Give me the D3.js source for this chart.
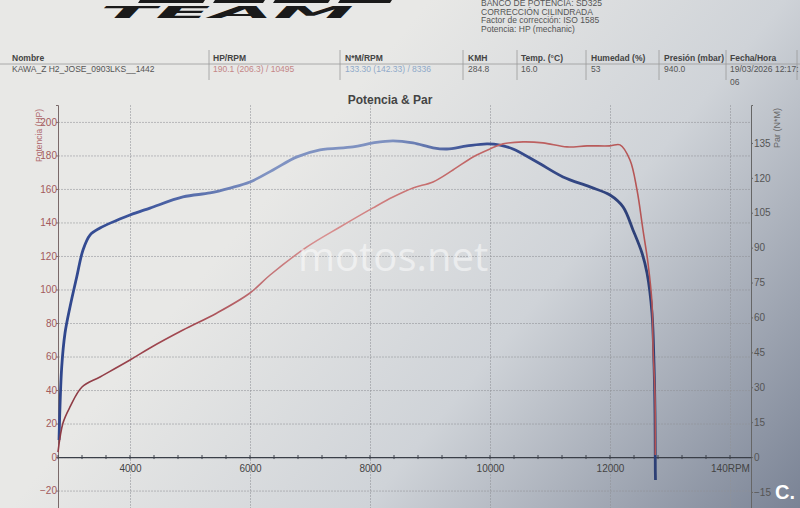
<!DOCTYPE html>
<html>
<head>
<meta charset="utf-8">
<script src="https://cdn.jsdelivr.net/npm/d3@7"></script>
<style>
    body { margin: 0; background: #e9e9e7; }
    svg { display: block; font-family: "Liberation Sans", Arial, sans-serif; }
</style>
</head>
<body>
<div id="chart-area"></div>
<script>

/********************************************/
// Data _____________________________________/
/********************************************/

// Power curve (HP, left axis)
const powerRpm = [2800, 2883, 3000, 3200, 3500, 4000, 4333, 4883, 5450, 6000, 6330, 6950, 7500, 8050,
    8383, 8717, 9050, 9383, 9717, 10000, 10217, 10550, 10883, 11283, 11617, 12000, 12167, 12333,
    12450, 12550, 12633, 12700, 12717, 12750, 12755];
const powerHp = [3.0, 20.3, 29.9, 41.8, 47.8, 57.9, 65.1, 75.8, 86.0, 97.9, 108.5, 125.4, 137.3, 148.7,
    155.2, 160.6, 164.2, 171.3, 179.1, 183.9, 186.9, 188.1, 187.5, 185.1, 185.7, 185.7, 186.3, 177.3,
    159.4, 135.5, 115.8, 91.9, 65.7, 35.8, 1.2];

// Torque curve (N*M, right axis)
const torqueRpm = [2817, 2862, 2917, 3000, 3112, 3217, 3333, 3500, 4000, 4333, 4883, 5333, 5667, 6000,
    6383, 6783, 7167, 7717, 8050, 8383, 8717, 9050, 9283, 9617, 9950, 10167, 10383, 10783, 11217,
    11667, 12000, 12217, 12383, 12533, 12617, 12700, 12733, 12750, 12755, 12758];
const torqueNm = [7.3, 38.7, 53.3, 64.5, 77.4, 89.0, 95.4, 98.4, 104.0, 107.0, 111.8, 113.5, 115.6, 118.2,
    123.4, 129.0, 132.0, 133.3, 135.0, 135.9, 135.0, 132.9, 132.4, 133.7, 134.6, 134.1, 132.4, 126.8, 120.4,
    116.1, 112.6, 107.5, 97.6, 87.7, 79.1, 61.9, 40.4, 18.9, -5.6, -9.9];

// Axis ticks
const hpTicks = [-20, 0, 20, 40, 60, 80, 100, 120, 140, 160, 180, 200];
const nmTicks = [-15, 0, 15, 30, 45, 60, 75, 90, 105, 120, 135];
const rpmTicks = [4000, 6000, 8000, 10000, 12000, 14000];
const rpmLabels = ["4000", "6000", "8000", "10000", "12000", "140RPM"];

// Header table
const headerLabels = ["Nombre", "HP/RPM", "N*M/RPM", "KMH", "Temp. (°C)", "Humedad (%)", "Presión (mbar)", "Fecha/Hora"];
const headerValues = ["KAWA_Z H2_JOSE_0903LKS__1442", "190.1 (206.3) / 10495", "133.30 (142.33) / 8336",
    "284.8", "16.0", "53", "940.0", "19/03/2026 12:17:"];
const bankInfo = ["BANCO DE POTENCIA: SD325", "CORRECCIÓN CILINDRADA", "Factor de corrección: ISO 1585", "Potencia: HP (mechanic)"];

/********************************************/
// Svg dimension creation ___________________/
/********************************************/

const W = 800, H = 508;
const margin = { left: 58, right: 49, top: 105, bottom: 0 },
    width = W - margin.left - margin.right,
    height = H - margin.top - margin.bottom;

const svg = d3.select("#chart-area").append("svg")
    .attr("width", W)
    .attr("height", H);

const defs = svg.append("defs");

// Photo-like paper shading
const bg = defs.append("linearGradient").attr("id", "paper")
    .attr("gradientUnits", "userSpaceOnUse")
    .attr("x1", 330).attr("y1", 120).attr("x2", 800).attr("y2", 508);
bg.append("stop").attr("offset", 0).attr("stop-color", "#e8e8e6");
bg.append("stop").attr("offset", 0.45).attr("stop-color", "#cfd3d8");
bg.append("stop").attr("offset", 1).attr("stop-color", "#7a8395");

svg.append("rect").attr("width", W).attr("height", H).attr("fill", "url(#paper)");

function strokeGrad(id, stops) {
    const gr = defs.append("linearGradient").attr("id", id)
        .attr("gradientUnits", "userSpaceOnUse")
        .attr("x1", 0).attr("y1", 0).attr("x2", width).attr("y2", 0);
    stops.forEach(s => gr.append("stop").attr("offset", s[0]).attr("stop-color", s[1]));
}
strokeGrad("blueLine", [[0, "#2f468c"], [0.12, "#3d559c"], [0.3, "#8093c2"], [0.48, "#7e91c0"], [0.6, "#3a4f93"], [1, "#263766"]]);
strokeGrad("redLine", [[0, "#8c3a44"], [0.2, "#a54a52"], [0.38, "#d99191"], [0.55, "#c46a6a"], [1, "#ad4a4a"]]);

/********************************************/
// Header ___________________________________/
/********************************************/

// Logo (cut off at top)
const logo = svg.append("g").attr("fill", "#1a1a1a");
[[140, 205], [215, 265], [275, 330], [340, 392]].forEach(p => {
    logo.append("path").attr("d", `M${p[0]},0 L${p[1]},0 L${p[1] - 2},3 L${p[0] - 2},3 Z`);
});
logo.append("text")
    .attr("x", 100).attr("y", 18)
    .attr("font-size", 15).attr("font-weight", 900).attr("font-style", "italic")
    .attr("font-family", "DejaVu Sans")
    .attr("textLength", 254).attr("lengthAdjust", "spacingAndGlyphs")
    .text("TEAM");

svg.append("g").selectAll("text").data(bankInfo).join("text")
    .attr("x", 481).attr("y", (d, i) => 6 + i * 8.5)
    .attr("font-size", 8.5).attr("fill", "#555")
    .text(d => d);

const colX = [12, 213, 345, 468, 521, 591, 664, 730];
const sepX = [209, 340, 463, 517, 586, 659, 726, 797];
const valueColors = ["#555", "#c48686", "#8fa9c9", "#555", "#555", "#555", "#555", "#555"];

svg.append("line").attr("x1", 0).attr("x2", W).attr("y1", 64).attr("y2", 64)
    .attr("stroke", "#999").attr("stroke-width", 0.8);
svg.append("g").selectAll("line").data(sepX).join("line")
    .attr("x1", d => d).attr("x2", d => d).attr("y1", 50).attr("y2", 80)
    .attr("stroke", "#999").attr("stroke-width", 0.8);
svg.append("g").selectAll("text").data(headerLabels).join("text")
    .attr("x", (d, i) => colX[i]).attr("y", 61)
    .attr("font-size", 8.5).attr("font-weight", "bold").attr("fill", "#444")
    .text(d => d);
svg.append("g").selectAll("text").data(headerValues).join("text")
    .attr("x", (d, i) => colX[i]).attr("y", 72)
    .attr("font-size", 8.5).attr("fill", (d, i) => valueColors[i])
    .text(d => d);
svg.append("text").attr("x", 730).attr("y", 85)
    .attr("font-size", 8.5).attr("fill", "#555").text("06");

svg.append("text")
    .attr("x", 390).attr("y", 104)
    .attr("text-anchor", "middle")
    .attr("font-size", 12).attr("font-weight", "bold").attr("fill", "#444")
    .text("Potencia & Par");

/********************************************/
// Chart ____________________________________/
/********************************************/

const g = svg.append("g")
    .attr("transform", "translate(" + margin.left + ", " + margin.top + ")");

const x = d3.scaleLinear().domain([2800, 14350]).range([0, width]);
const yHp = d3.scaleLinear().domain([-30.4, 210.1]).range([height, 0]);
const yNm = d3.scaleLinear().domain([-21.9, 151.3]).range([height, 0]);

// Gridlines
g.append("g")
    .attr("class", "grid")
    .call(d3.axisLeft(yHp).tickValues(hpTicks).tickSize(-width).tickFormat(""))
    .call(s => s.select(".domain").remove());
g.append("g")
    .attr("class", "grid")
    .attr("transform", "translate(0," + height + ")")
    .call(d3.axisBottom(x).tickValues(rpmTicks).tickSize(height).tickFormat(""))
    .call(s => s.select(".domain").remove())
    .call(s => s.selectAll("line").attr("transform", "translate(0," + (-height) + ")"));
g.selectAll(".grid line")
    .attr("stroke", "#8f9296")
    .attr("stroke-opacity", 0.7)
    .attr("stroke-width", 0.8)
    .attr("stroke-dasharray", "2,1");

// Left axis (HP)
const yAxisL = g.append("g")
    .call(d3.axisLeft(yHp).tickValues(hpTicks).tickSize(2));
yAxisL.select(".domain").attr("stroke", "#7a6a6a");
yAxisL.selectAll(".tick line").attr("stroke", "#7a6a6a");
yAxisL.selectAll("text").attr("fill", "#a25a5c").attr("font-size", 10).attr("dx", 4);

g.append("text")
    .attr("transform", "rotate(-90)")
    .attr("x", -(yHp(180) - 20)).attr("y", -16)
    .attr("text-anchor", "middle")
    .attr("font-size", 8.5).attr("fill", "#b06a6e")
    .text("Potencia (HP)");

// Right axis (N*M)
const yAxisR = g.append("g")
    .attr("transform", "translate(" + width + ",0)")
    .call(d3.axisRight(yNm).tickValues(nmTicks).tickSize(2));
yAxisR.select(".domain").attr("stroke", "#666");
yAxisR.selectAll(".tick line").attr("stroke", "#666");
yAxisR.selectAll("text").attr("fill", "#555").attr("font-size", 10).attr("dx", -2);

g.append("text")
    .attr("transform", "rotate(-90)")
    .attr("x", -(yNm(135) - 15)).attr("y", width + 29)
    .attr("text-anchor", "middle")
    .attr("font-size", 9).attr("fill", "#666")
    .text("Par (N*M)");

// X axis at 0 HP
const xAxis = g.append("g")
    .attr("transform", "translate(0," + yHp(0) + ")")
    .call(d3.axisBottom(x).tickValues(rpmTicks).tickSize(0)
        .tickFormat((d, i) => rpmLabels[i]));
xAxis.select(".domain").attr("stroke", "#3a3f48").attr("stroke-width", 1.2);
xAxis.selectAll("text").attr("fill", "#444").attr("font-size", 10).attr("dy", "1.2em");

// Minor ticks every 400 rpm
xAxis.append("g").selectAll("line")
    .data(d3.range(2800, 14400, 400))
    .join("line")
    .attr("x1", d => x(d)).attr("x2", d => x(d))
    .attr("y1", -2).attr("y2", 2)
    .attr("stroke", "#3a3f48");

// Curves
const curve = d3.curveCatmullRom.alpha(0.5);
const powerLine = d3.line()
    .x((d) => { return x(d[0]); })
    .y((d) => { return yHp(d[1]); })
    .curve(curve);
const torqueLine = d3.line()
    .x((d) => { return x(d[0]); })
    .y((d) => { return yNm(d[1]); })
    .curve(curve);

g.append("path")
    .attr("fill", "none")
    .attr("stroke", "url(#blueLine)")
    .attr("stroke-width", 2.8)
    .attr("stroke-linejoin", "round")
    .attr("d", torqueLine(d3.zip(torqueRpm, torqueNm)));

g.append("path")
    .attr("fill", "none")
    .attr("stroke", "url(#redLine)")
    .attr("stroke-width", 1.6)
    .attr("stroke-linejoin", "round")
    .attr("d", powerLine(d3.zip(powerRpm, powerHp)));

// Watermarks
svg.append("text")
    .attr("x", 298).attr("y", 271)
    .attr("font-family", "Open Sans").attr("font-size", 40)
    .attr("fill", "#ffffff").attr("fill-opacity", 0.5)
    .text("motos.net");

svg.append("text")
    .attr("x", 775).attr("y", 499)
    .attr("font-size", 20).attr("font-weight", "bold")
    .attr("fill", "#ffffff")
    .text("C.");

</script>
</body>
</html>
